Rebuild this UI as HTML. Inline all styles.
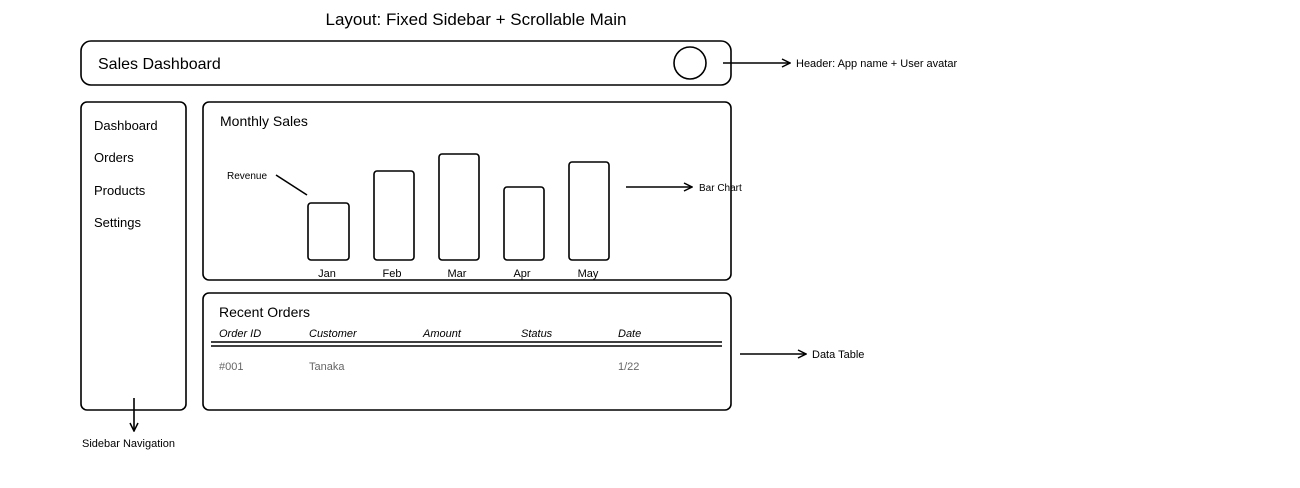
<!DOCTYPE html>
<html><head><meta charset="utf-8"><style>
html,body{margin:0;padding:0;background:#fff;}
svg{display:block;font-family:"Liberation Sans",sans-serif;}
</style></head><body>
<svg width="1300" height="488" viewBox="0 0 1300 488" xmlns="http://www.w3.org/2000/svg">
<defs><marker id="a" markerWidth="10" markerHeight="10" refX="9" refY="5" orient="auto" markerUnits="userSpaceOnUse"><path d="M1,1 L9,5 L1,9" fill="none" stroke="#000" stroke-width="1.5"/></marker></defs>
<g fill="none" stroke="#000" stroke-width="1.6">
<rect x="81" y="41" width="650" height="44" rx="10"/>
<circle cx="690" cy="63" r="16"/>
<rect x="81" y="102" width="105" height="308" rx="6"/>
<rect x="203" y="102" width="528" height="178" rx="6"/>
<rect x="203" y="293" width="528" height="117" rx="6"/>
<rect x="308" y="203" width="41" height="57" rx="3"/>
<rect x="374" y="171" width="40" height="89" rx="3"/>
<rect x="439" y="154" width="40" height="106" rx="3"/>
<rect x="504" y="187" width="40" height="73" rx="3"/>
<rect x="569" y="162" width="40" height="98" rx="3"/>
<line x1="276" y1="175" x2="307" y2="195"/>
<line x1="211" y1="342" x2="722" y2="342"/>
<line x1="211" y1="346" x2="722" y2="346"/>
<line x1="723" y1="63" x2="790" y2="63" marker-end="url(#a)"/>
<line x1="626" y1="187" x2="692" y2="187" marker-end="url(#a)"/>
<line x1="740" y1="354" x2="806" y2="354" marker-end="url(#a)"/>
<line x1="134" y1="398" x2="134" y2="431" marker-end="url(#a)"/>
</g>
<g fill="#000">
<text x="476" y="25" font-size="17" text-anchor="middle">Layout: Fixed Sidebar + Scrollable Main</text>
<text x="98" y="69" font-size="16">Sales Dashboard</text>
<text x="796" y="67" font-size="11">Header: App name + User avatar</text>
<text x="94" y="130" font-size="13">Dashboard</text>
<text x="94" y="162" font-size="13">Orders</text>
<text x="94" y="195" font-size="13">Products</text>
<text x="94" y="227" font-size="13">Settings</text>
<text x="220" y="126" font-size="14">Monthly Sales</text>
<text x="227" y="179" font-size="10">Revenue</text>
<text x="699" y="191" font-size="10">Bar Chart</text>
<g font-size="11" text-anchor="middle">
<text x="327" y="277">Jan</text><text x="392" y="277">Feb</text><text x="457" y="277">Mar</text><text x="522" y="277">Apr</text><text x="588" y="277">May</text>
</g>
<text x="219" y="317" font-size="14">Recent Orders</text>
<g font-size="11" font-style="italic">
<text x="219" y="337">Order ID</text><text x="309" y="337">Customer</text><text x="423" y="337">Amount</text><text x="521" y="337">Status</text><text x="618" y="337">Date</text>
</g>
<g font-size="11" fill="#666">
<text x="219" y="370">#001</text><text x="309" y="370">Tanaka</text><text x="618" y="370">1/22</text>
</g>
<text x="812" y="358" font-size="11">Data Table</text>
<text x="82" y="447" font-size="11">Sidebar Navigation</text>
</g>
</svg>
</body></html>
